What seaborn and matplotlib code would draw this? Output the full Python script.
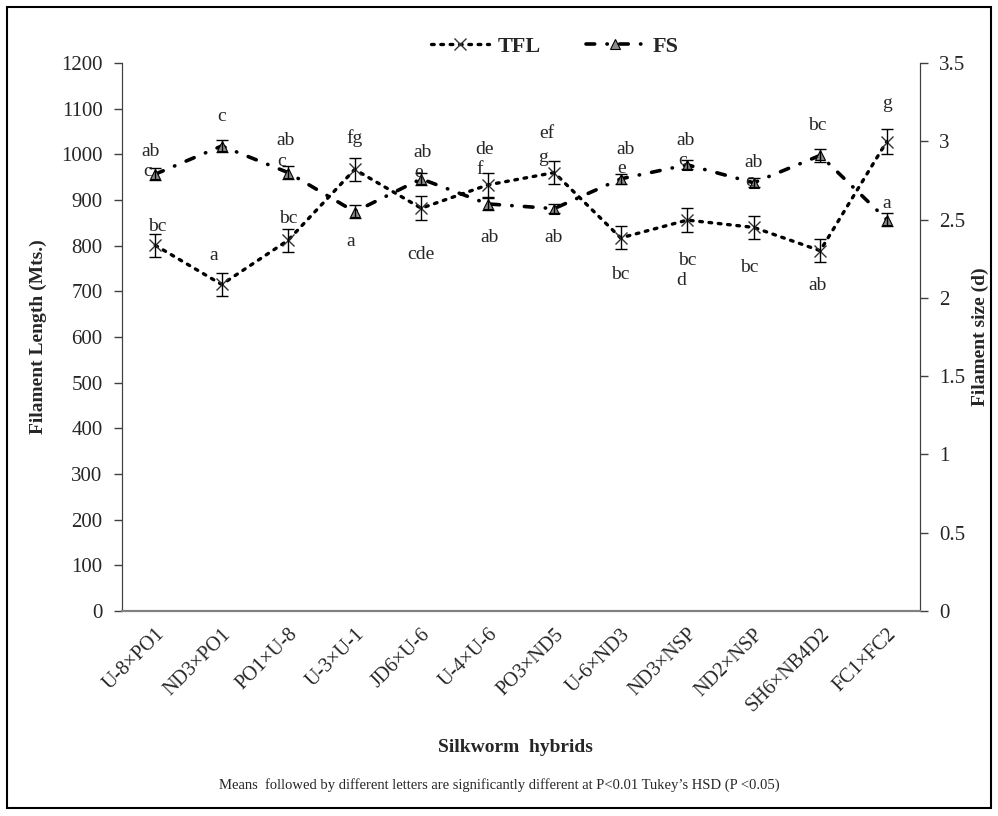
import matplotlib
matplotlib.use("Agg")
import matplotlib.pyplot as plt
import seaborn as sns
from matplotlib.patches import Rectangle

# data
hybrids = ["U-8×PO1", "ND3×PO1", "PO1×U-8", "U-3×U-1", "JD6×U-6", "U-4×U-6",
           "PO3×ND5", "U-6×ND3", "ND3×NSP", "ND2×NSP", "SH6×NB4D2", "FC1×FC2"]
tfl = [801, 715, 812, 967, 882, 933, 960, 817, 856, 840, 789, 1028]
tfl_err = [25, 26, 25, 26, 26, 27, 26, 25, 26, 26, 25, 27]
fs = [2.79, 2.97, 2.80, 2.55, 2.76, 2.60, 2.57, 2.76, 2.85, 2.735, 2.91, 2.50]
fs_err = [0.04, 0.04, 0.04, 0.04, 0.04, 0.04, 0.03, 0.03, 0.03, 0.03, 0.04, 0.04]

# Tukey letters (main line, second line)
tfl_letters = ["bc", "a", "bc", "fg", "cde", "de", "ef", "bc", "bc", "bc", "ab", "g"]
tfl_letters2 = ["", "", "", "", "", "f", "g", "", "d", "", "", ""]
fs_letters = ["ab", "c", "ab", "a", "ab", "ab", "ab", "ab", "ab", "ab", "bc", "a"]
fs_letters2 = ["c", "", "c", "", "e", "", "", "e", "c", "c", "", ""]

# label offsets in pixels (dx, dy up)
tfl_off = [(2, 19), (-8, 29), (0, 22), (0, 31), (0, -46), (-3, 35), (-7, 39),
           (0, -37), (0, -40), (-4, -40), (-3, -35), (0, 38)]
tfl_off2 = [None, None, None, None, None, (-8, 15), (-11, 15), None, (-6, -60),
            None, None, None]
fs_off = [(-5, 23), (0, 29), (-3, 32), (-4, -30), (1, 26), (2, -34), (-1, -29),
          (5, 29), (-2, 24), (0, 20), (-3, 30), (0, 16)]
fs_off2 = [(-8, 3), None, (-7, 11), None, (-3, 6), None, None, (1, 10), (-5, 4),
           (-4, 1), None, None]

sns.set_style("white")
plt.rcParams["font.family"] = ["Liberation Serif", "DejaVu Serif"]

fig = plt.figure(figsize=(9.98, 8.16), dpi=100)
ax = fig.add_axes([0.1222, 0.2512, 0.7996, 0.6716])
ax2 = ax.twinx()
x = list(range(len(hybrids)))

sns.lineplot(x=hybrids, y=tfl, ax=ax, color="black", lw=2.4,
             linestyle=(0, (0.8, 2.0)), dash_capstyle="round",
             marker="x", markersize=9, markeredgecolor="#333333",
             markeredgewidth=1.0, label="TFL", legend=False)
ax.errorbar(x, tfl, yerr=tfl_err, fmt="none", ecolor="black", elinewidth=1,
            capsize=4.5, capthick=1)

sns.lineplot(x=hybrids, y=fs, ax=ax2, color="black", lw=2.6,
             linestyle=(0, (2.4, 3.4, 0.1, 3.4)), dash_capstyle="round",
             marker="^", markersize=7, markerfacecolor="#8c8c8c",
             markeredgecolor="black", markeredgewidth=0.8,
             label="FS", legend=False)
ax2.errorbar(x, fs, yerr=fs_err, fmt="none", ecolor="black", elinewidth=1,
             capsize=4.5, capthick=1)

ax.set_ylim(0, 1200)
ax.set_yticks(range(0, 1201, 100))
ax2.set_ylim(0, 3.5)
ax2.set_yticks([0, 0.5, 1, 1.5, 2, 2.5, 3, 3.5])
ax2.set_yticklabels(["0", "0.5", "1", "1.5", "2", "2.5", "3", "3.5"])
ax.set_xlim(-0.5, len(hybrids) - 0.5)

ax.set_xticks(x)
ax.set_xticklabels(hybrids, rotation=45, ha="right", rotation_mode="anchor",
                   fontsize=14.5)
ax.set_xticks([i - 0.5 for i in range(len(hybrids) + 1)], minor=True)
ax.tick_params(axis="x", which="major", length=0, pad=10)
ax.tick_params(axis="x", which="minor", length=6, width=1, color="#808080",
               direction="out")
ax.tick_params(axis="y", length=6, width=1, color="#404040", labelsize=15,
               direction="out", pad=8)
ax2.tick_params(axis="y", length=6, width=1, color="#404040", labelsize=15,
                direction="out", pad=8)

for a in (ax, ax2):
    a.spines["top"].set_visible(False)
    a.spines["left"].set_color("#404040")
    a.spines["right"].set_color("#404040")
    a.spines["bottom"].set_color("#808080")
    a.spines["bottom"].set_linewidth(1.5)
ax.grid(False)
ax2.grid(False)

ax.set_ylabel("Filament Length (Mts.)", fontsize=14, fontweight="bold",
              labelpad=10)
ax2.set_ylabel("Filament size (d)", fontsize=14, fontweight="bold",
               rotation=90, labelpad=4)
ax.set_xlabel("")
fig.text(0.516, 1 - 748 / 816, "Silkworm  hybrids", ha="center", va="center",
         fontsize=14, fontweight="bold")
fig.text(0.5, 1 - 785 / 816,
         "Means  followed by different letters are significantly different at "
         "P<0.01 Tukey\u2019s HSD (P <0.05)",
         ha="center", va="center", fontsize=10.5)


def put(axis, vals, labels, offs):
    for i, (v, t, o) in enumerate(zip(vals, labels, offs)):
        if t and o is not None:
            axis.annotate(t, (i, v), xytext=o, textcoords="offset pixels",
                          ha="center", va="center", fontsize=14)


put(ax, tfl, tfl_letters, tfl_off)
put(ax, tfl, tfl_letters2, tfl_off2)
put(ax2, fs, fs_letters, fs_off)
put(ax2, fs, fs_letters2, fs_off2)

h1, l1 = ax.get_legend_handles_labels()
h2, l2 = ax2.get_legend_handles_labels()
fig.legend(h1 + h2, l1 + l2, loc="center", bbox_to_anchor=(0.556, 1 - 47 / 816),
           ncol=2, frameon=False, handlelength=2.6, handletextpad=0.4,
           columnspacing=2.0, prop={"weight": "bold", "size": 16})

fig.patches.append(Rectangle((7 / 998, 8 / 816), 984 / 998, 801 / 816,
                             transform=fig.transFigure, fill=False,
                             edgecolor="black", lw=1.5))

fig.savefig("out.png", dpi=100)
